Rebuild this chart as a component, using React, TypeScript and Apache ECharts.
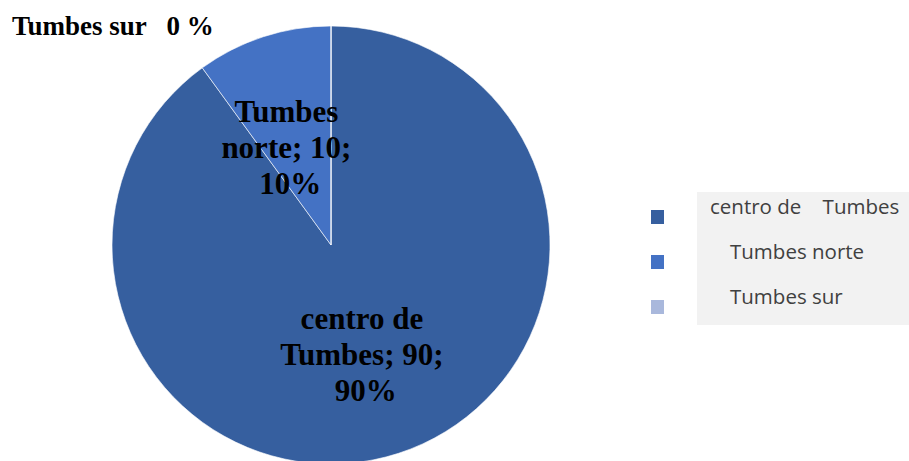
import React, { useEffect, useRef } from "react";
import * as echarts from "echarts";

const categories = ["centro de Tumbes", "Tumbes norte", "Tumbes sur"];
const values = [90, 10, 0];
const legendLabels = ["centro de    Tumbes", "Tumbes norte", "Tumbes sur"];
const colors = ["#365F9F", "#4472C4", "#A9B8DC"];

export default function App() {
  const ref = useRef<HTMLDivElement>(null);
  useEffect(() => {
    if (!ref.current) return;
    const chart = echarts.init(ref.current, null, { renderer: "svg" });
    const total = values.reduce((a, b) => a + b, 0);
    const labelWidths = [175, 140, 100];
    const labelOffsets = [[0, 3], [-6, 9], [0, 0]];
    const legendTextX = [710, 730, 730];
    const graphic: any[] = [
      {
        type: "rect",
        shape: { x: 697, y: 192, width: 212, height: 133 },
        style: { fill: "#F2F2F2" },
        silent: true,
      },
    ];
    categories.forEach((c, i) => {
      graphic.push({
        type: "rect",
        shape: { x: 651, y: 210 + i * 45, width: 13, height: 14 },
        style: { fill: colors[i] },
      });
      graphic.push({
        type: "text",
        x: legendTextX[i],
        y: 206 + i * 45,
        style: {
          text: legendLabels[i],
          font: '20.5px "Open Sans"',
          fill: "#404040",
          verticalAlign: "middle",
          textAlign: "left",
        },
      });
    });
    graphic.push({
      type: "text",
      x: 12,
      y: 26,
      style: {
        text: `${categories[2]}   ${Math.round((values[2] / total) * 100)} %`,
        font: 'bold 27px "Liberation Serif"',
        fill: "#000",
        verticalAlign: "middle",
        textAlign: "left",
      },
    });
    chart.setOption({
      animation: false,
      graphic,
      series: [
        {
          type: "pie",
          center: [331, 245],
          radius: [0, 219],
          startAngle: 90,
          clockwise: true,
          itemStyle: { borderColor: "rgba(255,255,255,0.6)", borderWidth: 1 },
          label: {
            show: true,
            position: "inside",
            formatter: "{b}; {c}; {d}%",
            fontFamily: "Liberation Serif",
            fontWeight: "bold",
            fontSize: 31,
            lineHeight: 36,
            color: "#000",
            overflow: "break",
            align: "center",
          },
          labelLine: { show: false },
          emphasis: { disabled: true },
          data: categories.map((name, i) => ({
            name,
            value: values[i],
            itemStyle: { color: colors[i] },
            label: { width: labelWidths[i], show: values[i] > 0, offset: labelOffsets[i] },
          })),
        },
      ],
    });
    return () => chart.dispose();
  }, []);
  return (
    <div
      ref={ref}
      style={{ position: "fixed", left: 0, top: 0, width: 909, height: 461, background: "#fff" }}
    />
  );
}
